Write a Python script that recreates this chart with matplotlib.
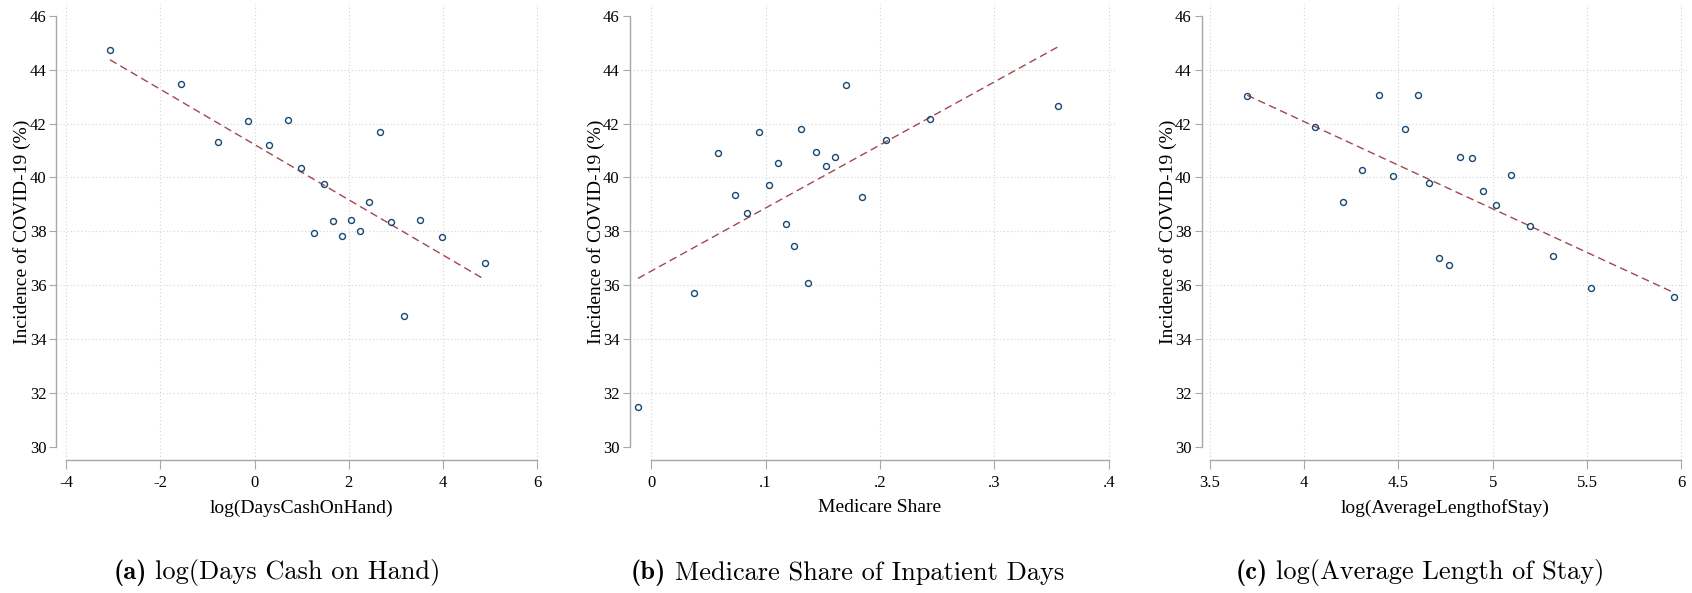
"""Three binned scatter panels: COVID-19 incidence vs hospital characteristics."""

import matplotlib
matplotlib.use("Agg")
import matplotlib.pyplot as plt
import numpy as np

plt.rcParams["font.family"] = ["Liberation Serif", "DejaVu Serif"]

# ---- data -------------------------------------------------------------
cash_x = [-3.07, -1.57, -0.77, -0.15, 0.31, 0.70, 0.99, 1.25, 1.47, 1.66,
          1.85, 2.05, 2.23, 2.43, 2.66, 2.90, 3.17, 3.52, 3.98, 4.89]
cash_y = [44.74, 43.45, 41.33, 42.10, 41.19, 42.13, 40.37, 37.94, 39.75, 38.38,
          37.82, 38.43, 38.02, 39.11, 41.68, 38.36, 34.87, 38.43, 37.80, 36.82]

medicare_x = [-0.0115, 0.0374, 0.0587, 0.0733, 0.0842, 0.0939, 0.1027, 0.1105,
              0.1176, 0.1245, 0.1307, 0.1373, 0.1445, 0.1526, 0.1607, 0.1707,
              0.1847, 0.2053, 0.2437, 0.3554]
medicare_y = [31.51, 35.72, 40.90, 39.36, 38.67, 41.69, 39.72, 40.53,
              38.28, 37.45, 41.79, 36.08, 40.96, 40.41, 40.76, 43.44,
              39.29, 41.39, 42.16, 42.66]

stay_x = [3.699, 4.057, 4.207, 4.309, 4.399, 4.471, 4.537, 4.602, 4.663, 4.714,
          4.771, 4.826, 4.889, 4.948, 5.016, 5.096, 5.196, 5.322, 5.521, 5.962]
stay_y = [43.02, 41.87, 39.10, 40.28, 43.04, 40.04, 41.80, 43.05, 39.81, 37.01,
          36.77, 40.77, 40.74, 39.51, 38.98, 40.08, 38.20, 37.10, 35.89, 35.58]

# linear fits (intercept, slope) as drawn in the reference
cash_fit = (41.22, -1.024)
medicare_fit = (36.53, 23.38)
stay_fit = (55.01, -3.234)

cash_ticks = [-4, -2, 0, 2, 4, 6]
cash_labels = ["-4", "-2", "0", "2", "4", "6"]
medicare_ticks = [0, 0.1, 0.2, 0.3, 0.4]
medicare_labels = ["0", ".1", ".2", ".3", ".4"]
stay_ticks = [3.5, 4, 4.5, 5, 5.5, 6]
stay_labels = ["3.5", "4", "4.5", "5", "5.5", "6"]

y_ticks = [30, 32, 34, 36, 38, 40, 42, 44, 46]

x_titles = ["log(DaysCashOnHand)", "Medicare Share", "log(AverageLengthofStay)"]
caption_tags = ["(a)", "(b)", "(c)"]
captions = ["log(Days Cash on Hand)", "Medicare Share of Inpatient Days",
            "log(Average Length of Stay)"]
y_title = "Incidence of COVID-19 (%)"

# ---- figure -------------------------------------------------------------
W, H = 1692, 593
fig = plt.figure(figsize=(W / 100, H / 100), dpi=100)

# pixel boxes of the plot regions (left, right), shared bottom/top
boxes = [(56.4, 543.0), (629.6, 1114.6), (1201.7, 1687.0)]
bottom_px, top_px = 460, 4
xlims = [(-4.206, 6.12), (-0.0188, 0.405), (3.458, 6.03)]
caption_x = [277, 847.5, 1420]

panels = [
    (cash_x, cash_y, cash_fit, cash_ticks, cash_labels),
    (medicare_x, medicare_y, medicare_fit, medicare_ticks, medicare_labels),
    (stay_x, stay_y, stay_fit, stay_ticks, stay_labels),
]

spine_col = "#a8a8a8"
grid_col = "#d4d4d4"

renderer = fig.canvas.get_renderer()

for i, (xs, ys, fit, xt, xtl) in enumerate(panels):
    left, right = boxes[i]
    ax = fig.add_axes([left / W, (H - bottom_px) / H,
                       (right - left) / W, (bottom_px - top_px) / H])
    ax.set_xlim(*xlims[i])
    ax.set_ylim(29.53, 46.43)

    # gridlines: every x tick, inner y ticks only (Stata style)
    for t in xt:
        ax.axvline(t, color=grid_col, lw=0.8, linestyle=(0, (1, 2.2)), zorder=0)
    for t in y_ticks[1:-1]:
        ax.axhline(t, color=grid_col, lw=0.8, linestyle=(0, (1, 2.2)), zorder=0)

    xf = np.array([min(xs), max(xs)])
    ax.plot(xf, fit[0] + fit[1] * xf, color="#a4464f", lw=1.0,
            dashes=(5.5, 3.2), zorder=2)
    ax.plot(xs, ys, linestyle="none", marker="o", markersize=4.3,
            markerfacecolor="none", markeredgecolor="#1a476f",
            markeredgewidth=1.0, zorder=3)

    for s in ("top", "right"):
        ax.spines[s].set_visible(False)
    ax.spines["left"].set_bounds(30, 46)
    ax.spines["bottom"].set_bounds(xt[0], xt[-1])
    for s in ("left", "bottom"):
        ax.spines[s].set_color(spine_col)
        ax.spines[s].set_linewidth(1.0)

    ax.set_xticks(xt)
    ax.set_xticklabels(xtl, fontsize=12)
    ax.set_yticks(y_ticks)
    ax.set_yticklabels([str(v) for v in y_ticks], fontsize=12)
    ax.tick_params(axis="y", length=4.7, width=0.8, color=spine_col, pad=2.5,
                   labelcolor="black")
    ax.tick_params(axis="x", length=6.5, width=0.8, color=spine_col, pad=4.5,
                   labelcolor="black")

    width_px = right - left
    xmin, xmax = xlims[i]
    mid = ((xt[0] + xt[-1]) / 2 - xmin) / (xmax - xmin)
    ax.set_xlabel(x_titles[i], fontsize=14, va="center", color="black")
    ax.xaxis.set_label_coords(mid, -48 / (bottom_px - top_px))
    ax.set_ylabel(y_title, fontsize=14, va="center", color="black")
    ax.yaxis.set_label_coords(-34 / width_px, 0.5)

    # caption: bold tag + roman text, centred as one line
    cy = (H - 573) / H
    tag = fig.text(0, cy, caption_tags[i], fontfamily="cmb10", fontsize=19,
                   ha="left", va="center")
    body = fig.text(0, cy, captions[i], fontfamily="cmr10", fontsize=19,
                    ha="left", va="center")
    w_tag = tag.get_window_extent(renderer).width
    w_body = body.get_window_extent(renderer).width
    gap = 0.333 * 19 * 100 / 72
    x0 = caption_x[i] - (w_tag + gap + w_body) / 2
    tag.set_x(x0 / W)
    body.set_x((x0 + w_tag + gap) / W)

fig.savefig("out.png", dpi=100)
